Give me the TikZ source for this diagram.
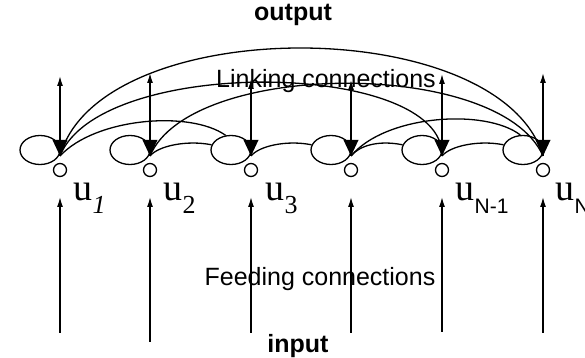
\documentclass[tikz,border=0pt]{standalone}
\usepackage{fontspec}
\setmainfont{Liberation Sans}
\newfontfamily\lserif{Liberation Serif}
\usetikzlibrary{arrows.meta,shapes.geometric}

\newcommand{\ulab}[1]{{\lserif\fontsize{19}{19}\selectfont u}\raisebox{-6.5pt}{#1}}

\begin{document}
\begin{tikzpicture}[x=0.5pt,y=-0.5pt,line width=0.65pt,
    >={Latex[length=5pt,width=3pt]},
    neuron/.style={draw,ellipse,minimum width=20pt,minimum height=14.5pt,inner sep=0pt},
    soma/.style={draw,circle,minimum size=6.5pt,inner sep=0pt},
    lbl/.style={inner sep=0pt,font=\fontsize{12.5}{15}\selectfont},
    ulbl/.style={anchor=base west,inner sep=0pt}]
  \useasboundingbox (0,0) rectangle (585,358);

  % neurons, output and feeding arrows
  \foreach \i/\x/\yo/\yf in {1/60/76/333,2/150/73/342,3/251/79/333,4/351/80/333,5/442/74/332,6/543/73/333}{
    \node[neuron] (e\i) at (\x-20,150) {};
    \node[soma] (c\i) at (\x,170) {};
    \coordinate (t\i) at (\x,156);
    \coordinate (o\i) at (\x,\yo);
    \coordinate (f\i) at (\x,\yf);
    \coordinate (g\i) at (\x,197);
    \fill (t\i) -- ++(-7.5,-16) -- ++(15,0) -- cycle;
    \draw[->] (t\i) -- (o\i);
    \draw[->] (f\i) -- (g\i);
  }

  % linking connections
  \draw (t1) .. controls (100,12) and (500,12) .. (t6);
  \draw (t1) .. controls (100,55) and (445,60) .. (t5);
  \draw (t2) .. controls (190,60) and (500,58) .. (t6);
  \draw (t1) .. controls (95,118) and (190,110) .. (e3.110);
  \draw (t4) .. controls (385,115) and (485,108) .. (e6.100);
  \foreach \i/\j in {2/3,3/4,4/5,5/6}
    \draw (t\i) .. controls +(8,-10) and +(-25,-5) .. (e\j.165);

  % texts
  \node[lbl,font=\fontsize{12.5}{15}\selectfont\bfseries] (out) at (293,15) {output};
  \node[lbl,font=\fontsize{12.5}{15}\selectfont\bfseries] (inp) at (298,346) {input};
  \node[lbl] (link) at (326,81) {Linking connections};
  \node[lbl] (feed) at (320,279) {Feeding connections};

  \node[ulbl] (u1) at (73,201) {\ulab{\lserif\itshape\fontsize{13}{13}\selectfont 1}};
  \node[ulbl] (u2) at (163,201) {\ulab{\lserif\fontsize{13}{13}\selectfont 2}};
  \node[ulbl] (u3) at (265,201) {\ulab{\lserif\fontsize{13}{13}\selectfont 3}};
  \node[ulbl] (u5) at (455,201) {\ulab{\fontsize{10.5}{10.5}\selectfont N-1}};
  \node[ulbl] (u6) at (555,201) {\ulab{\fontsize{10.5}{10.5}\selectfont N}};
\end{tikzpicture}
\end{document}
